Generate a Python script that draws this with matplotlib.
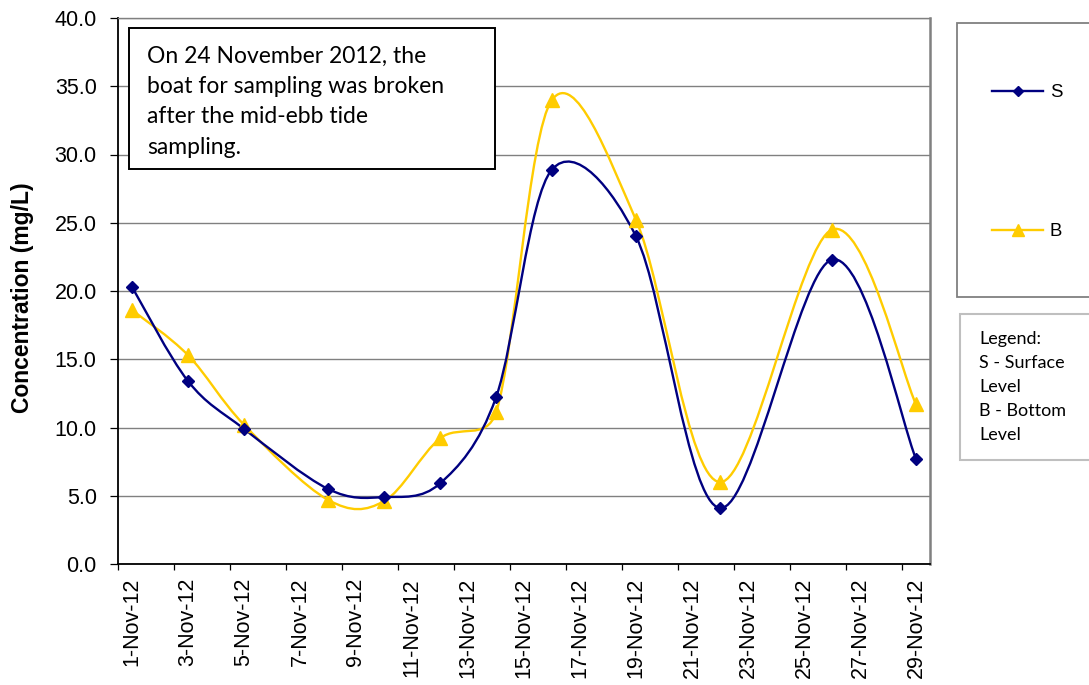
import matplotlib
matplotlib.use("Agg")
import matplotlib.pyplot as plt
from matplotlib.path import Path
from matplotlib.patches import PathPatch, Rectangle
from matplotlib.lines import Line2D
import numpy as np

# ---------------- data ----------------
days = [1, 3, 5, 8, 10, 12, 14, 16, 19, 22, 26, 29]
surface = [20.3, 13.4, 9.9, 5.5, 4.9, 5.9, 12.2, 28.9, 24.0, 4.1, 22.3, 7.7]
bottom = [18.6, 15.3, 10.2, 4.7, 4.6, 9.2, 11.1, 34.0, 25.2, 6.0, 24.5, 11.7]
label_days = [1, 3, 5, 7, 9, 11, 13, 15, 17, 19, 21, 23, 25, 27, 29]
x_labels = ["1-Nov-12", "3-Nov-12", "5-Nov-12", "7-Nov-12", "9-Nov-12",
            "11-Nov-12", "13-Nov-12", "15-Nov-12", "17-Nov-12", "19-Nov-12",
            "21-Nov-12", "23-Nov-12", "25-Nov-12", "27-Nov-12", "29-Nov-12"]
y_ticks = [0, 5, 10, 15, 20, 25, 30, 35, 40]
series_names = ["S", "B"]
note_text = ("On 24 November 2012, the\nboat for sampling was broken\n"
             "after the mid-ebb tide\nsampling.")
legend_note = "Legend:\nS - Surface\nLevel\nB - Bottom\nLevel"

S_COLOR = "#000080"
B_COLOR = "#FFCC00"

W, H = 1089, 685
fig = plt.figure(figsize=(W / 100, H / 100), dpi=100)
fig.patch.set_facecolor("white")


def fx(px):
    return px / W


def fy(py):
    return 1 - py / H


ax = fig.add_axes([fx(118), fy(564), fx(930) - fx(118), fy(18) - fy(564)])
ax.set_xlim(0.5, 29.5)
ax.set_ylim(0, 40)


def smooth_path(ax, xs, ys):
    """Excel-like smoothed line: Catmull-Rom style cubic Bezier (1/6 of the
    neighbour chord), with each control arm limited to half the segment."""
    pts = ax.transData.transform(np.column_stack([xs, ys]).astype(float))
    n = len(pts)
    verts = [pts[0]]
    codes = [Path.MOVETO]
    for i in range(n - 1):
        p1 = pts[i]
        p2 = pts[i + 1]
        p0 = pts[i - 1] if i > 0 else p1
        p3 = pts[i + 2] if i + 2 < n else p2
        d12 = np.hypot(*(p2 - p1))
        t1 = p2 - p0
        t2 = p3 - p1
        d02 = np.hypot(*t1)
        d13 = np.hypot(*t2)
        f1 = 1 / 6 if d02 / 6 < d12 / 2 else d12 / (2 * d02)
        f2 = 1 / 6 if d13 / 6 < d12 / 2 else d12 / (2 * d13)
        c1 = p1 + t1 * f1
        c2 = p2 - t2 * f2
        verts += [c1, c2, p2]
        codes += [Path.CURVE4] * 3
    verts = ax.transData.inverted().transform(np.array(verts))
    return Path(verts, codes)


LW = 1.7
ax.add_patch(PathPatch(smooth_path(ax, days, bottom), fill=False, edgecolor=B_COLOR,
                       lw=LW, zorder=3, capstyle="round", joinstyle="round"))
ax.add_patch(PathPatch(smooth_path(ax, days, surface), fill=False, edgecolor=S_COLOR,
                       lw=LW, zorder=4, capstyle="round", joinstyle="round"))
ax.plot(days, bottom, ls="none", marker="^", ms=10, color=B_COLOR, zorder=5)
ax.plot(days, surface, ls="none", marker="D", ms=6.3, color=S_COLOR, zorder=6)

# y axis
ax.set_yticks(y_ticks)
ax.set_yticklabels([f"{v:.1f}" for v in y_ticks], fontfamily="Liberation Sans",
                   fontsize=15.5)
ax.tick_params(axis="y", direction="out", length=5.8, width=0.9, pad=9.5,
               color="black")
ax.yaxis.grid(True, color="#808080", lw=1.0)
ax.set_axisbelow(True)

# x axis: tick marks at slot boundaries, labels at day centres
ax.set_xticks(np.arange(0.5, 29.0, 2.0))
ax.set_xticklabels([])
ax.tick_params(axis="x", which="major", direction="out", length=4.5, width=0.9,
               color="black")
ax.set_xticks(label_days, minor=True)
ax.set_xticklabels(x_labels, minor=True, rotation=90, fontfamily="Liberation Sans",
                   fontsize=15.5)
ax.tick_params(axis="x", which="minor", length=0, pad=10)

ax.set_ylabel("Concentration (mg/L)", fontfamily="Liberation Sans",
              fontweight="bold", fontsize=16.5)
ax.yaxis.set_label_coords((34.5 - 118) / 812, (564 - 297.5) / 546)

for s in ["left", "bottom"]:
    ax.spines[s].set_color("black")
    ax.spines[s].set_linewidth(1.3)
ax.spines["right"].set_color("#808080")
ax.spines["right"].set_linewidth(1.8)
ax.spines["top"].set_color("#808080")
ax.spines["top"].set_linewidth(1.0)

# annotation box
fig.patches.append(Rectangle((fx(129.3), fy(169.3)), fx(495) - fx(129.3),
                             fy(28.3) - fy(169.3), transform=fig.transFigure,
                             facecolor="white", edgecolor="black", lw=1.4,
                             zorder=10))
fig.text(fx(147), fy(45.5), note_text, fontfamily="Lato", fontsize=16.5,
         va="top", ha="left", linespacing=1.55, zorder=11)

# legend box
fig.patches.append(Rectangle((fx(957.3), fy(296.7)), fx(1100) - fx(957.3),
                             fy(23.3) - fy(296.7), transform=fig.transFigure,
                             facecolor="white", edgecolor="#808080", lw=1.3))
handles = [Line2D([], [], color=S_COLOR, lw=LW, marker="D", ms=5.5),
           Line2D([], [], color=B_COLOR, lw=LW, marker="^", ms=9)]
leg = fig.legend(handles, series_names, loc="upper left",
                 bbox_to_anchor=(fx(992), fy(84)), frameon=False,
                 prop={"family": "Liberation Sans", "size": 13.4},
                 handlelength=2.75, handletextpad=0.35, labelspacing=6.56,
                 borderpad=0, borderaxespad=0)

# legend note box
fig.patches.append(Rectangle((fx(960), fy(460)), fx(1100) - fx(960),
                             fy(314) - fy(460), transform=fig.transFigure,
                             facecolor="white", edgecolor="#BFBFBF", lw=1.5))
fig.text(fx(979), fy(331), legend_note, fontfamily="Lato", fontsize=13,
         va="top", ha="left", linespacing=1.62)

fig.savefig("out.png", dpi=100, facecolor="white")
